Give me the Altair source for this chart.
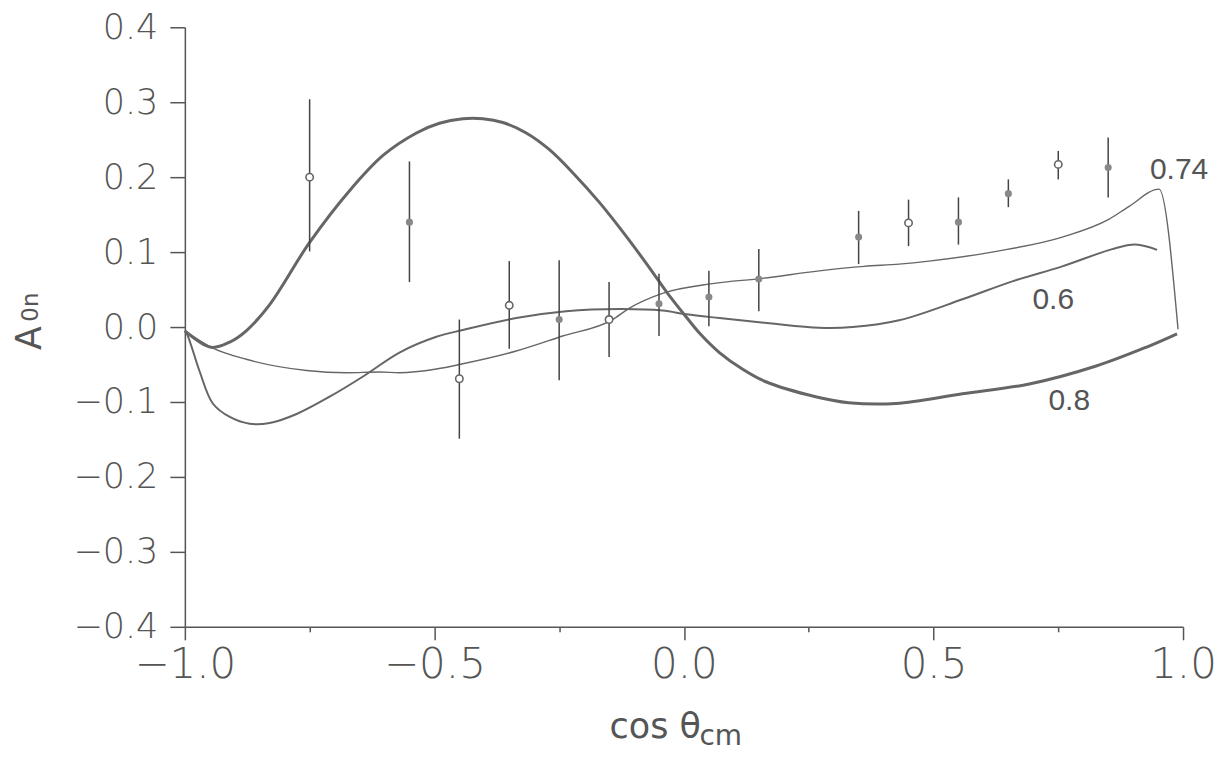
import altair as alt
import pandas as pd

# ---------------- data ----------------
# measured points
pt_x = [-0.75, -0.55, -0.45, -0.35, -0.25, -0.15, -0.05, 0.05, 0.15, 0.35, 0.45, 0.55, 0.65, 0.75, 0.85]
pt_y = [0.200, 0.140, -0.069, 0.029, 0.010, 0.010, 0.031, 0.040, 0.064, 0.120, 0.139, 0.140, 0.178, 0.217, 0.213]
pt_lo = [0.101, 0.060, -0.149, -0.029, -0.071, -0.040, -0.012, 0.001, 0.021, 0.084, 0.108, 0.110, 0.160, 0.197, 0.173]
pt_hi = [0.304, 0.221, 0.010, 0.088, 0.089, 0.060, 0.071, 0.075, 0.104, 0.155, 0.170, 0.173, 0.197, 0.235, 0.253]
pt_open = [True, False, True, True, False, True, False, False, False, False, True, False, False, True, False]

# curve "0.8"
c08_x = [-1.0, -0.947, -0.91, -0.877, -0.83, -0.75, -0.67, -0.603, -0.536, -0.49, -0.443, -0.403,
         -0.363, -0.316, -0.27, -0.22, -0.169, -0.119, -0.069, -0.035, 0.005, 0.031, 0.071, 0.117,
         0.164, 0.264, 0.33, 0.425, 0.558, 0.692, 0.826, 0.926, 0.988]
c08_y = [-0.005, -0.027, -0.020, -0.005, 0.030, 0.113, 0.182, 0.229, 0.259, 0.272, 0.278, 0.278,
         0.273, 0.259, 0.237, 0.204, 0.166, 0.124, 0.079, 0.047, 0.013, -0.008, -0.034, -0.056,
         -0.073, -0.093, -0.101, -0.102, -0.089, -0.076, -0.052, -0.027, -0.009]

# curve "0.74"
c074_x = [-1.0, -0.947, -0.877, -0.756, -0.676, -0.61, -0.57, -0.496, -0.443, -0.336, -0.243,
          -0.143, -0.11, -0.043, 0.057, 0.157, 0.271, 0.361, 0.431, 0.491, 0.626, 0.758, 0.852,
          0.892, 0.952, 0.99]
c074_y = [-0.005, -0.027, -0.043, -0.058, -0.061, -0.060, -0.061, -0.056, -0.049, -0.032, -0.012,
          0.010, 0.025, 0.045, 0.058, 0.065, 0.075, 0.081, 0.084, 0.088, 0.101, 0.120, 0.144,
          0.161, 0.184, -0.003]

# curve "0.6"
c06_x = [-1.0, -0.994, -0.97, -0.944, -0.91, -0.87, -0.83, -0.776, -0.71, -0.643, -0.57, -0.496,
         -0.443, -0.336, -0.236, -0.129, -0.043, 0.005, 0.071, 0.171, 0.271, 0.338, 0.431, 0.558,
         0.658, 0.758, 0.858, 0.905, 0.948]
c06_y = [-0.005, -0.012, -0.060, -0.102, -0.120, -0.129, -0.128, -0.116, -0.093, -0.066, -0.034,
         -0.013, -0.004, 0.012, 0.021, 0.024, 0.022, 0.017, 0.012, 0.005, -0.001, 0.000, 0.009,
         0.037, 0.061, 0.081, 0.104, 0.110, 0.103]

# curve labels
lab_text = ["0.74", "0.6", "0.8"]
lab_x = [0.992, 0.740, 0.772]
lab_y = [0.209, 0.036, -0.099]

# axis ticks
x_ticks = [-1.0, -0.75, -0.5, -0.25, 0.0, 0.25, 0.5, 0.75, 1.0]
y_ticks = [-0.4, -0.35, -0.3, -0.25, -0.2, -0.15, -0.1, -0.05, 0.0, 0.05, 0.1, 0.15, 0.2, 0.25, 0.3, 0.35, 0.4]

# ---------------- build tables ----------------
pts = pd.DataFrame({"x": pt_x, "y": pt_y, "lo": pt_lo, "hi": pt_hi, "open": pt_open})
c08 = pd.DataFrame({"x": c08_x, "y": c08_y})
c074 = pd.DataFrame({"x": c074_x, "y": c074_y})
c06 = pd.DataFrame({"x": c06_x, "y": c06_y})
labs = pd.DataFrame({"x": lab_x, "y": lab_y, "t": lab_text})

AX = "#555555"
LINE = "#666666"

xscale = alt.Scale(domain=[-1.0, 1.0], nice=False, zero=False)
yscale = alt.Scale(domain=[-0.4, 0.4], nice=False, zero=False)

xaxis = alt.Axis(
    values=x_ticks, title=None, grid=False,
    labelExpr="round(datum.value*4) % 2 == 0 ? format(datum.value, '.1f') : ''",
    tickSize={"condition": {"test": "round(datum.value*4) % 2 == 0", "value": 13}, "value": 5},
    labelFontSize=42, labelFont="DejaVu Sans", labelFontWeight=200, labelColor=AX,
    labelFlush=False, labelOverlap=False, labelBound=False, labelPadding=5,
    domainColor=AX, domainWidth=1.5, tickColor=AX, tickWidth=1.5,
)
yaxis = alt.Axis(
    values=y_ticks, title=None, grid=False,
    labelExpr="round(datum.value*20) % 2 == 0 ? format(datum.value, '.1f') : ''",
    tickSize={"condition": {"test": "round(datum.value*20) % 2 == 0", "value": 15}, "value": 6},
    labelFontSize=35, labelFont="DejaVu Sans", labelFontWeight=200, labelColor=AX,
    labelFlush=False, labelOverlap=False, labelBound=False, labelPadding=12,
    domainColor=AX, domainWidth=1.5, tickColor=AX, tickWidth=1.5,
)

X = alt.X("x:Q", scale=xscale, axis=xaxis)
Y = alt.Y("y:Q", scale=yscale, axis=yaxis)

line08 = alt.Chart(c08).mark_line(interpolate="catmull-rom", color=LINE, strokeWidth=3).encode(
    x=X, y=Y, order="x:Q")
line074 = alt.Chart(c074).mark_line(interpolate="monotone", color=LINE, strokeWidth=1.4).encode(
    x="x:Q", y="y:Q", order="x:Q")
line06 = alt.Chart(c06).mark_line(interpolate="catmull-rom", color=LINE, strokeWidth=2).encode(
    x="x:Q", y="y:Q", order="x:Q")

bars = alt.Chart(pts).mark_rule(color="#444444", strokeWidth=1.5).encode(
    x="x:Q", y="lo:Q", y2="hi:Q")
filled = alt.Chart(pts).transform_filter("!datum.open").mark_point(
    shape="circle", filled=True, size=50, color="#888888", opacity=1).encode(x="x:Q", y="y:Q")
opened = alt.Chart(pts).transform_filter("datum.open").mark_point(
    shape="circle", filled=False, size=55, color="#666666", fill="white", fillOpacity=1,
    strokeWidth=1.6, opacity=1).encode(x="x:Q", y="y:Q")

curve_labels = alt.Chart(labs).mark_text(
    font="Liberation Sans", fontSize=30, color="#555555", align="center", baseline="middle"
).encode(x="x:Q", y="y:Q", text="t:N")

# axis titles (drawn as text so that subscripts can be shown)
tx1 = alt.Chart(pd.DataFrame({"t": ["cos θ"]})).mark_text(
    font="DejaVu Sans", fontSize=35, color=AX, align="left", baseline="alphabetic"
).encode(text="t:N", x=alt.value(425), y=alt.value(711))
tx2 = alt.Chart(pd.DataFrame({"t": ["cm"]})).mark_text(
    font="DejaVu Sans", fontSize=28, color=AX, align="left", baseline="alphabetic"
).encode(text="t:N", x=alt.value(515), y=alt.value(718))
ty1 = alt.Chart(pd.DataFrame({"t": ["A"]})).mark_text(
    font="DejaVu Sans", fontSize=35, color=AX, align="center", baseline="alphabetic", angle=270
).encode(text="t:N", x=alt.value(-144), y=alt.value(311))
ty2 = alt.Chart(pd.DataFrame({"t": ["0n"]})).mark_text(
    font="DejaVu Sans", fontSize=23, color=AX, align="center", baseline="alphabetic", angle=270
).encode(text="t:N", x=alt.value(-147), y=alt.value(280))

chart = alt.layer(
    line08, line074, line06, bars, opened, filled, curve_labels, tx1, tx2, ty1, ty2
).properties(
    width=999, height=600,
    autosize=alt.AutoSizeParams(type="none"),
    padding={"left": 177, "top": 19, "right": 40, "bottom": 130},
    background="white",
).configure_view(stroke=None)

chart.save("out.html", embed_options={"renderer": "svg", "actions": False})
